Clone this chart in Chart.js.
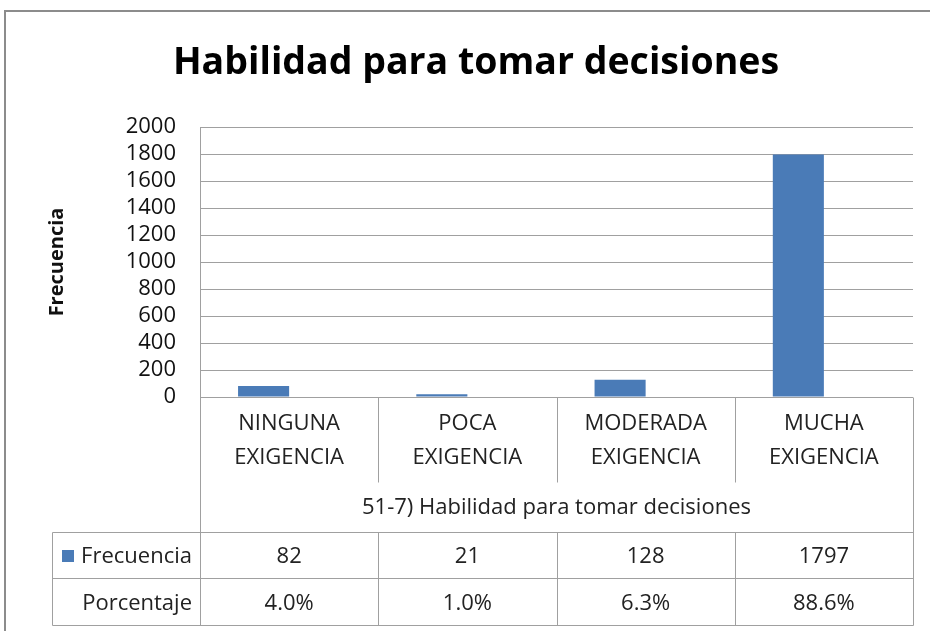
<!DOCTYPE html>
<html>
<head>
<meta charset="utf-8">
<style>
  html, body { margin: 0; padding: 0; background: #fff; }
  #wrap { width: 930px; height: 631px; position: relative; }
</style>
</head>
<body>
<div id="wrap"><canvas id="chart" width="930" height="631"></canvas></div>
<script src="https://cdn.jsdelivr.net/npm/chart.js@4/dist/chart.umd.min.js"></script>
<script>
const categories = [['NINGUNA', 'EXIGENCIA'], ['POCA', 'EXIGENCIA'], ['MODERADA', 'EXIGENCIA'], ['MUCHA', 'EXIGENCIA']];
const frecuencia = [82, 21, 128, 1797];
const porcentaje = [4.0, 1.0, 6.3, 88.6];
const yTicks = [0, 200, 400, 600, 800, 1000, 1200, 1400, 1600, 1800, 2000];

const FONT = "'Open Sans', 'DejaVu Sans', sans-serif";
const LINE = '#a0a0a0';
const BLUE = '#4a7bb7';

// frame + data table under the plot, drawn from the x positions of the bars
const tablePlugin = {
    id: 'tablePlugin',
    beforeDraw(chart) {
        const ctx = chart.ctx;
        ctx.save();
        ctx.fillStyle = '#fff';
        ctx.fillRect(0, 0, chart.width, chart.height);
        ctx.strokeStyle = '#8c8c8c';
        ctx.lineWidth = 2;
        ctx.strokeRect(5, 11, 1000, 1000);
        ctx.restore();
    },
    afterDraw(chart) {
        const ctx = chart.ctx;
        const area = chart.chartArea;
        const left = area.left;
        const right = area.right;
        const colW = (right - left) / categories.length;
        const top = area.bottom;
        const catBottom = top + 85;
        const titleBottom = top + 135;
        const row1 = top + 181;
        const row2 = top + 228;
        const tableLeft = 52;

        ctx.save();
        ctx.strokeStyle = LINE;
        ctx.lineWidth = 1;
        const line = (x1, y1, x2, y2) => {
            ctx.beginPath();
            ctx.moveTo(Math.round(x1) + 0.5, Math.round(y1) + 0.5);
            ctx.lineTo(Math.round(x2) + 0.5, Math.round(y2) + 0.5);
            ctx.stroke();
        };
        line(left, top, left, row2);
        line(right, top, right, row2);
        for (let i = 1; i < categories.length; i++) {
            const x = left + colW * i;
            line(x, top, x, catBottom);
            line(x, titleBottom, x, row2);
        }
        line(tableLeft, titleBottom, right, titleBottom);
        line(tableLeft, row1, right, row1);
        line(tableLeft, row2, right, row2);
        line(tableLeft, titleBottom, tableLeft, row2);

        ctx.fillStyle = '#222';
        ctx.textAlign = 'center';
        ctx.textBaseline = 'middle';
        ctx.font = '22px ' + FONT;
        categories.forEach((lab, i) => {
            const cx = left + colW * (i + 0.5);
            ctx.fillText(lab[0], cx, top + 27);
            ctx.fillText(lab[1], cx, top + 61);
            ctx.fillText(String(frecuencia[i]), cx, titleBottom + 25);
            ctx.fillText(porcentaje[i].toFixed(1) + '%', cx, row1 + 26);
        });
        ctx.fillText('51-7) Habilidad para tomar decisiones', (left + right) / 2, top + 111);

        ctx.textAlign = 'right';
        ctx.fillText('Frecuencia', left - 8, titleBottom + 25);
        ctx.fillText('Porcentaje', left - 8, row1 + 26);
        ctx.fillStyle = BLUE;
        ctx.fillRect(62, titleBottom + 18, 12, 12);
        ctx.restore();
    }
};

new Chart(document.getElementById('chart'), {
    type: 'bar',
    data: {
        labels: categories,
        datasets: [{
            label: 'Frecuencia',
            data: frecuencia,
            backgroundColor: BLUE,
            borderWidth: 0,
            categoryPercentage: 0.573,
            barPercentage: 1
        }, {
            label: 'Porcentaje',
            data: porcentaje.map(p => p / 100),
            backgroundColor: 'rgba(0,0,0,0)',
            borderWidth: 0,
            categoryPercentage: 0.573,
            barPercentage: 1
        }]
    },
    options: {
        responsive: false,
        animation: false,
        layout: { padding: { left: 39, right: 17, top: 0, bottom: 234 } },
        plugins: {
            legend: { display: false },
            tooltip: { enabled: false },
            title: {
                display: true,
                text: 'Habilidad para tomar decisiones',
                color: '#000',
                font: { family: FONT, size: 37.5, weight: 'bold' },
                padding: { top: 41, bottom: 41 }
            }
        },
        scales: {
            x: { display: false },
            y: {
                min: 0,
                max: 2000,
                afterFit(scale) { scale.width = 161; },
                afterBuildTicks(scale) { scale.ticks = yTicks.map(v => ({ value: v })); },
                ticks: {
                    autoSkip: false,
                    padding: 24,
                    color: '#111',
                    font: { family: FONT, size: 22 },
                    callback: (v) => String(v)
                },
                grid: { color: LINE, drawTicks: false },
                border: { display: true, color: LINE },
                title: {
                    display: true,
                    text: 'Frecuencia',
                    color: '#111',
                    font: { family: FONT, size: 20, weight: 'bold' },
                    padding: { top: 6, bottom: 0 }
                }
            }
        }
    },
    plugins: [tablePlugin]
});
</script>
</body>
</html>
